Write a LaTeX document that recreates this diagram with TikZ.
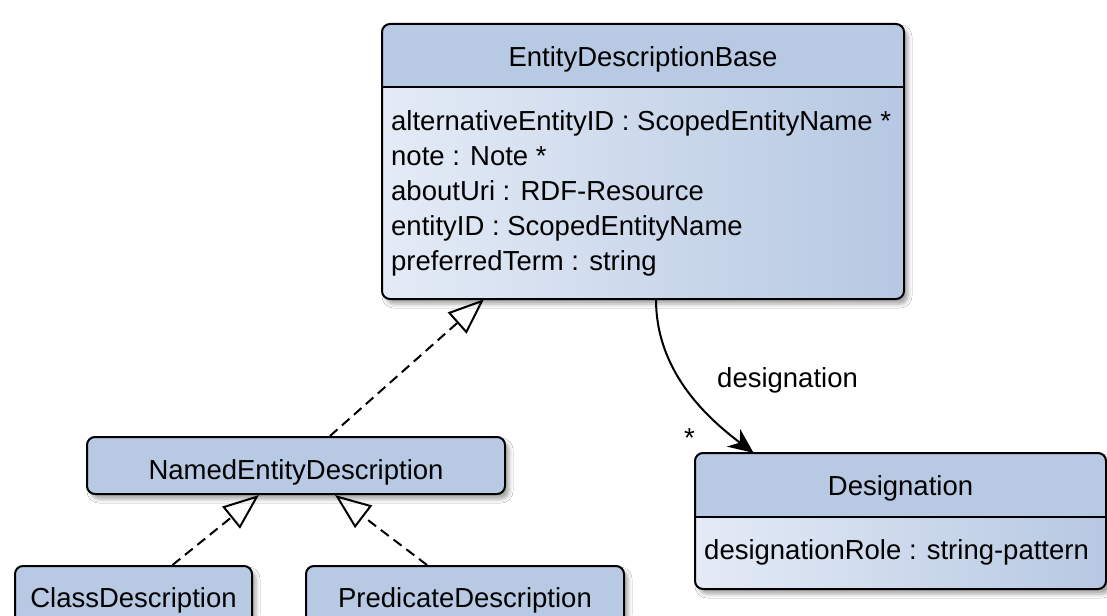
\documentclass[tikz,border=0pt]{standalone}
\usepackage{fontspec}
\setmainfont{Liberation Sans}
\usetikzlibrary{arrows.meta, shadows.blur}
\definecolor{uhead}{HTML}{B8C9E4}
\definecolor{ubodylight}{HTML}{E4EBF6}
\definecolor{ubody}{HTML}{B6C8E2}
\tikzset{
  uline/.style={draw=black, line width=2pt},
  ushadow/.style={blur shadow={shadow xshift=4pt, shadow yshift=-5pt,
                  shadow blur radius=4pt, shadow opacity=35}},
  ubodybox/.style={ushadow, left color=ubodylight, right color=ubody,
                   rounded corners=8pt, inner sep=0pt},
  uclass/.style={uline, ushadow, fill=uhead, rounded corners=8pt, inner sep=0pt,
                 font=\fontsize{27.5}{33}\selectfont},
  utitle/.style={anchor=base, inner sep=0pt, font=\fontsize{27.5}{33}\selectfont},
  uattr/.style={anchor=base west, inner sep=0pt, font=\fontsize{27.5}{33}\selectfont},
  rolelabel/.style={anchor=base west, inner sep=0pt, font=\fontsize{27.5}{33}\selectfont},
  realizes/.style={line width=2pt, dash pattern=on 10pt off 6pt,
                   -{Triangle[open, length=36pt, width=28pt]}},
  assoc/.style={line width=2pt, -{Stealth[length=25pt, width=22pt, inset=8pt]}},
}
% class frame with a title compartment and an attribute compartment
% #1 name, #2 #3 top left, #4 #5 bottom right, #6 y of the compartment line
\newcommand{\umlframe}[6]{%
  \node[ubodybox, minimum width={#4-#2}, minimum height={#5-#3}]
    (#1) at ({(#2+#4)/2},{(#3+#5)/2}) {};
  \begin{scope}
    \clip[rounded corners=8pt] (#2,#3) rectangle (#4,#5);
    \fill[uhead] (#2,#3) rectangle (#4,#6);
  \end{scope}
  \draw[uline, rounded corners=8pt] (#2,#3) rectangle (#4,#5);
  \draw[uline] (#2,#6) -- (#4,#6);
}

\begin{document}
\begin{tikzpicture}[x=1pt, y=-1pt]

  \clip (0,0) rectangle (1107,615);
  \fill[white] (0,0) rectangle (1107,615);

  % base class
  \umlframe{edb}{382}{24}{904}{299}{87}
  \node[utitle] (edb-t) at (643,67) {EntityDescriptionBase};
  \node[uattr] (edb-a1) at (391,130) {alternativeEntityID : ScopedEntityName *};
  \node[uattr] (edb-a2) at (391,165) {note : Note *};
  \node[uattr] (edb-a3) at (391,200) {aboutUri : RDF-Resource};
  \node[uattr] (edb-a4) at (391,235) {entityID : ScopedEntityName};
  \node[uattr] (edb-a5) at (391,270) {preferredTerm : string};

  % designation class
  \umlframe{des}{695}{453}{1106}{589}{517}
  \node[utitle] (des-t) at (900.5,495) {Designation};
  \node[uattr] (des-a1) at (704,559) {designationRole : string-pattern};

  % single compartment classes
  \node[uclass, minimum width=418, minimum height=57] (ned) at (296,465.5) {};
  \node[utitle] (ned-t) at (296,479) {NamedEntityDescription};
  \node[uclass, minimum width=237, minimum height=64] (cls) at (133.5,598) {};
  \node[utitle] (cls-t) at (133.5,607.5) {ClassDescription};
  \node[uclass, minimum width=318, minimum height=64] (pred) at (465,598) {};
  \node[utitle] (pred-t) at (465,607.5) {PredicateDescription};

  % realizations
  \draw[realizes] ([xshift=34pt]ned.north) -- ([xshift=-159pt]edb.south);
  \draw[realizes] ([xshift=39pt]cls.north) -- ([xshift=-37pt]ned.south);
  \draw[realizes] ([xshift=-38pt]pred.north) -- ([xshift=39pt]ned.south);

  % association
  \draw[assoc] ([xshift=13pt]edb.south) .. controls +(0,70) and +(-50,-37.5)
    .. ([xshift=-147pt]des.north);
  \node[rolelabel] (role) at (717,387) {designation};
  \node[rolelabel] (mult) at (684,447) {*};

\end{tikzpicture}
\end{document}
